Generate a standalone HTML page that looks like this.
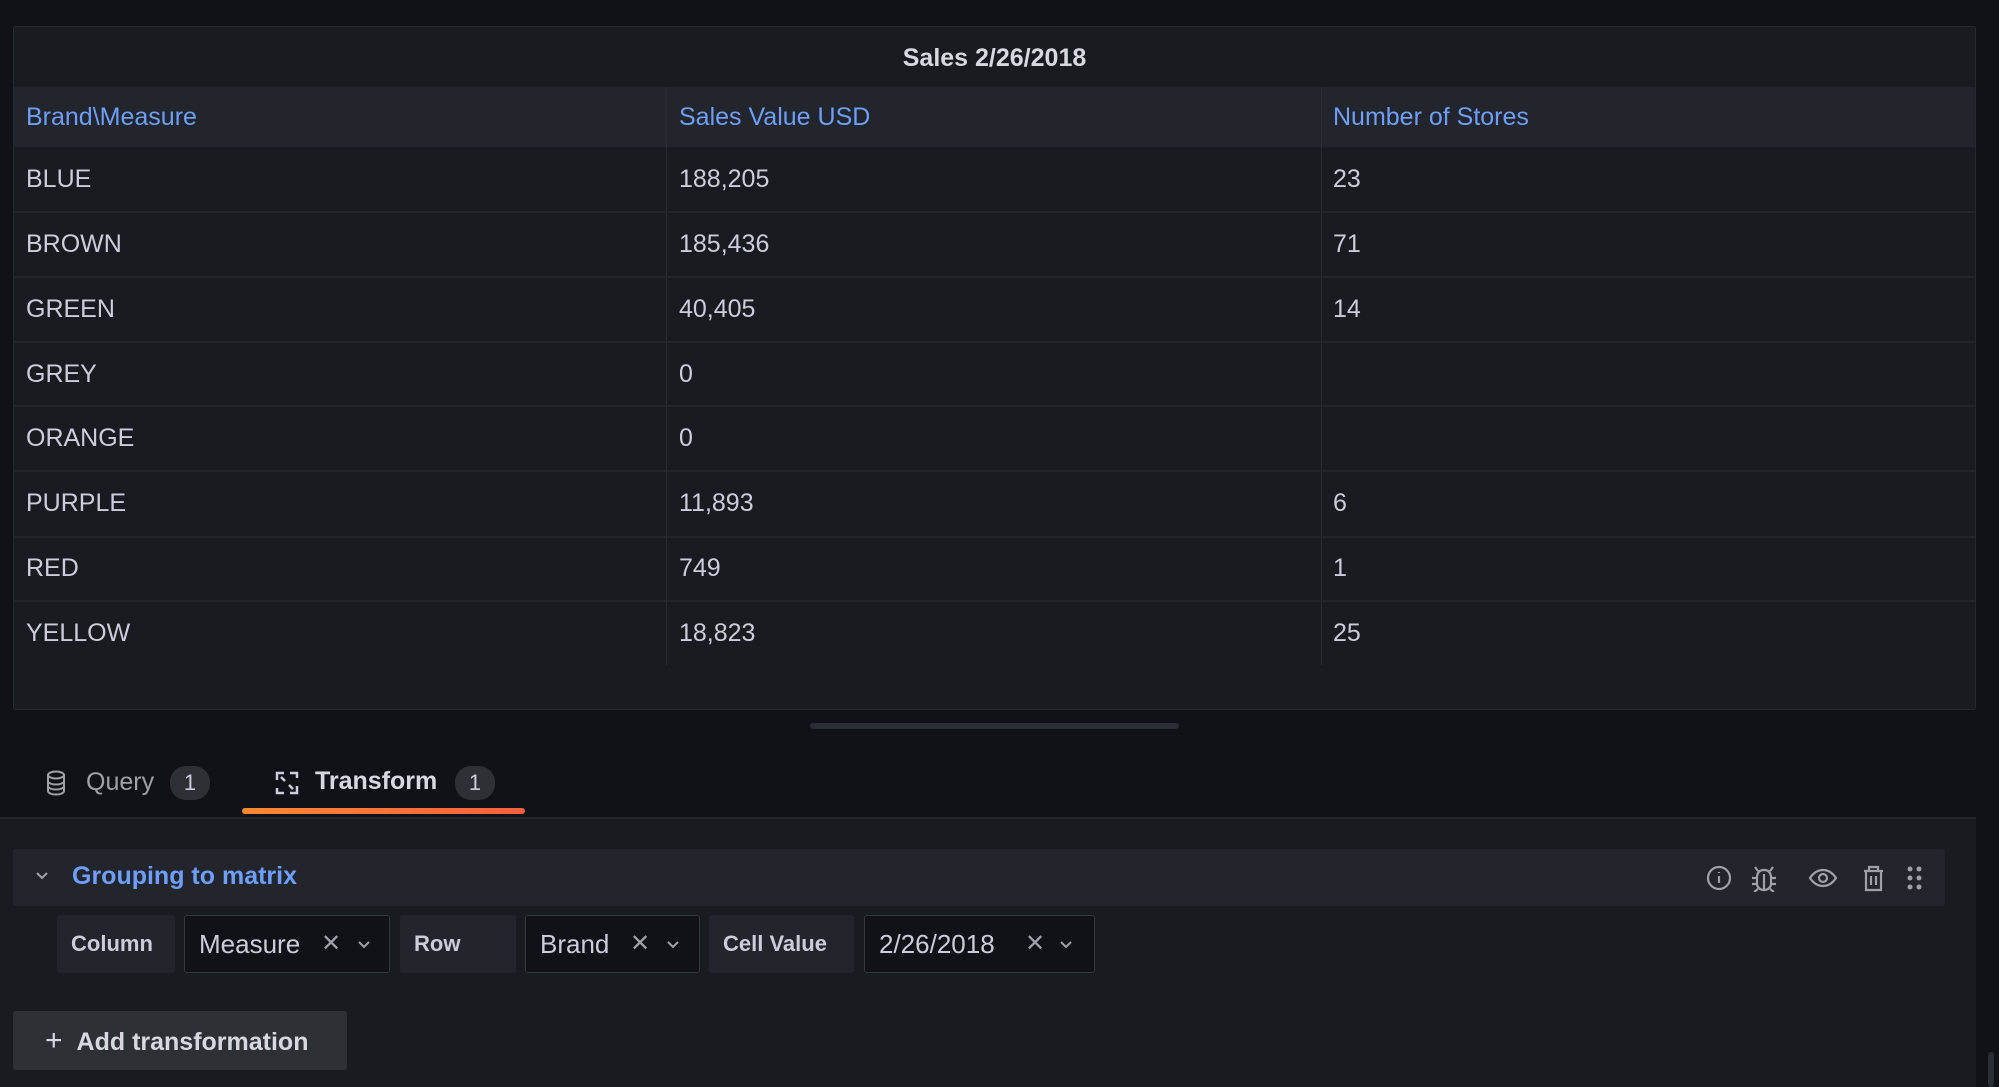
<!DOCTYPE html>
<html><head><meta charset="utf-8"><style>
*{box-sizing:border-box;margin:0;padding:0}
body{width:1999px;height:1087px;background:#111217;font-family:"Liberation Sans",sans-serif;color:#ccccdc;position:relative;overflow:hidden}
.a{position:absolute}
.panel{left:13px;top:26px;width:1963px;height:684px;background:#181b1f;border:1px solid #262930;border-radius:3px}
.title{left:0;width:100%;top:17px;text-align:center;font-size:25px;font-weight:bold;color:#d8d9e0}
.hdr{left:0;top:60px;width:100%;height:60px;background:#22252b}
.cell{font-size:25px;line-height:64px;white-space:nowrap}
.blue{color:#6e9fff}
.hl{left:0;width:100%;height:2px;background:#22252b}
.vl{top:60px;width:1px;height:578px;background:#2a2d33}
.lower{left:0;top:817px;width:1976px;height:270px;background:#181b1f;border-top:2px solid #22252b}
.lbl{background:#22252b;border-radius:3px;font-size:22px;font-weight:bold;color:#ccccdc;line-height:58px;padding-left:14px}
.inp{background:#111217;border:1px solid #34373d;border-radius:3px;font-size:26px;line-height:56px;padding-left:14px;color:#ccccdc}
.x{position:absolute;top:0;font-size:24px;color:#9fa1a8}
.badge{background:#2d3035;border-radius:16px;width:40px;height:34px;text-align:center;line-height:34px;font-size:22px;color:#ccccdc}
</style></head><body>
<div class="a panel">
 <div class="a title">Sales 2/26/2018</div>
 <div class="a hdr"></div>
 <div class="a vl" style="left:652px"></div>
 <div class="a vl" style="left:1307px"></div>
 <div class="a cell blue" style="left:12px;top:58px">Brand\Measure</div>
 <div class="a cell blue" style="left:665px;top:58px">Sales Value USD</div>
 <div class="a cell blue" style="left:1319px;top:58px">Number of Stores</div>
 <div class="a hl" style="top:184px"></div>
 <div class="a hl" style="top:249px"></div>
 <div class="a hl" style="top:314px"></div>
 <div class="a hl" style="top:378px"></div>
 <div class="a hl" style="top:443px"></div>
 <div class="a hl" style="top:509px"></div>
 <div class="a hl" style="top:573px"></div>
 <div class="a cell" style="left:12px;top:120px">BLUE</div><div class="a cell" style="left:665px;top:120px">188,205</div><div class="a cell" style="left:1319px;top:120px">23</div>
 <div class="a cell" style="left:12px;top:185px">BROWN</div><div class="a cell" style="left:665px;top:185px">185,436</div><div class="a cell" style="left:1319px;top:185px">71</div>
 <div class="a cell" style="left:12px;top:250px">GREEN</div><div class="a cell" style="left:665px;top:250px">40,405</div><div class="a cell" style="left:1319px;top:250px">14</div>
 <div class="a cell" style="left:12px;top:315px">GREY</div><div class="a cell" style="left:665px;top:315px">0</div>
 <div class="a cell" style="left:12px;top:379px">ORANGE</div><div class="a cell" style="left:665px;top:379px">0</div>
 <div class="a cell" style="left:12px;top:444px">PURPLE</div><div class="a cell" style="left:665px;top:444px">11,893</div><div class="a cell" style="left:1319px;top:444px">6</div>
 <div class="a cell" style="left:12px;top:509px">RED</div><div class="a cell" style="left:665px;top:509px">749</div><div class="a cell" style="left:1319px;top:509px">1</div>
 <div class="a cell" style="left:12px;top:574px">YELLOW</div><div class="a cell" style="left:665px;top:574px">18,823</div><div class="a cell" style="left:1319px;top:574px">25</div>
</div>
<div class="a" style="left:810px;top:723px;width:369px;height:6px;background:#2a2d33;border-radius:3px"></div>
<svg class="a" style="left:46px;top:770px" width="20" height="26" viewBox="0 0 20 26"><ellipse cx="10" cy="5" rx="8" ry="3.5" fill="none" stroke="#9fa1a8" stroke-width="2"/><path d="M2 5v16c0 2 3.5 3.5 8 3.5s8-1.5 8-3.5V5M2 11c0 2 3.5 3.5 8 3.5s8-1.5 8-3.5M2 16c0 2 3.5 3.5 8 3.5s8-1.5 8-3.5" fill="none" stroke="#9fa1a8" stroke-width="2"/></svg>
<div class="a" style="left:86px;top:768px;font-size:25px;color:#9fa1a8">Query</div>
<div class="a badge" style="left:170px;top:766px">1</div>
<svg class="a" style="left:274px;top:770px" width="26" height="26" viewBox="0 0 26 26" fill="none" stroke="#ccccdc" stroke-width="2.5"><path d="M3 10V3h7M23 16v7h-7M16 3h7v5M10 23H3v-5M7 7l4 4M19 19l-4-4"/></svg>
<div class="a" style="left:315px;top:767px;font-size:25px;font-weight:bold;color:#d8d9e0">Transform</div>
<div class="a badge" style="left:455px;top:766px">1</div>
<div class="a" style="left:242px;top:808px;width:283px;height:6px;border-radius:3px;background:linear-gradient(90deg,#ff8833,#f55f3e)"></div>
<div class="a lower"></div>
<div class="a" style="left:13px;top:849px;width:1932px;height:57px;background:#22252b;border-radius:3px"></div>
<svg class="a" style="left:35px;top:871px" width="14" height="10"><path d="M2 2l5 5 5-5" fill="none" stroke="#9fa1a8" stroke-width="2"/></svg>
<div class="a" style="left:72px;top:862px;font-size:25px;font-weight:bold;color:#6e9fff">Grouping to matrix</div>
<svg class="a" style="left:1705px;top:864px" width="230" height="28" fill="none" stroke="#9fa1a8" stroke-width="2.2">
 <circle cx="14" cy="14" r="11"/><path d="M14 12v7M14 8v1"/>
 <path d="M59 6c-5 0-7 3-7 8v6c0 3 3 6 7 6s7-3 7-6v-6c0-5-2-8-7-8zM59 10v16M52 14h-5M66 14h5M52 20h-5M66 20h5M53 7l-3-4M65 7l3-4M53 25l-4 3M65 25l4 3"/>
 <path d="M105 14c4-6 9-8 13-8s9 2 13 8c-4 6-9 8-13 8s-9-2-13-8z"/><circle cx="118" cy="14" r="4"/>
 <path d="M159 7h19M164 7V3h9v4M161 7v19h15V7M166 12v9M171 12v9"/>
 <g fill="#9fa1a8" stroke="none"><circle cx="205" cy="5" r="2.5"/><circle cx="214" cy="5" r="2.5"/><circle cx="205" cy="14" r="2.5"/><circle cx="214" cy="14" r="2.5"/><circle cx="205" cy="23" r="2.5"/><circle cx="214" cy="23" r="2.5"/></g>
</svg>
<div class="a lbl" style="left:57px;top:915px;width:118px;height:58px">Column</div>
<div class="a inp" style="left:184px;top:915px;width:206px;height:58px">Measure<span class="x" style="left:136px">✕</span><svg class="a" style="left:172px;top:24px" width="14" height="10"><path d="M2 2l5 5 5-5" fill="none" stroke="#9fa1a8" stroke-width="2"/></svg></div>
<div class="a lbl" style="left:400px;top:915px;width:116px;height:58px">Row</div>
<div class="a inp" style="left:525px;top:915px;width:175px;height:58px">Brand<span class="x" style="left:104px">✕</span><svg class="a" style="left:140px;top:24px" width="14" height="10"><path d="M2 2l5 5 5-5" fill="none" stroke="#9fa1a8" stroke-width="2"/></svg></div>
<div class="a lbl" style="left:709px;top:915px;width:145px;height:58px">Cell Value</div>
<div class="a inp" style="left:864px;top:915px;width:231px;height:58px">2/26/2018<span class="x" style="left:160px">✕</span><svg class="a" style="left:194px;top:24px" width="14" height="10"><path d="M2 2l5 5 5-5" fill="none" stroke="#9fa1a8" stroke-width="2"/></svg></div>
<div class="a" style="left:13px;top:1011px;width:334px;height:59px;background:#2d3035;border-radius:3px;font-size:25px;font-weight:bold;line-height:59px;color:#d8d9e0;padding-left:32px"><span style="font-weight:normal;font-size:30px;margin-right:14px">+</span>Add transformation</div>
<div class="a" style="left:1976px;top:817px;width:23px;height:270px;background:#111217"></div>
<div class="a" style="left:1988px;top:1052px;width:6px;height:35px;background:#2a2d33;border-radius:3px"></div>
</body></html>
